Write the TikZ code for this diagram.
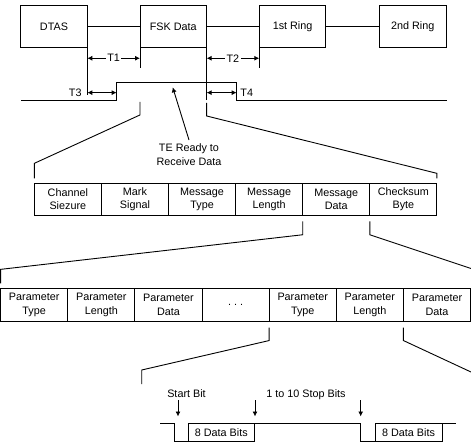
\documentclass[tikz,border=0pt]{standalone}
\usepackage{fontspec}
\setmainfont{Liberation Sans}
\usetikzlibrary{arrows.meta,positioning}

\tikzset{
	phase/.style={draw,minimum width=66.6pt,minimum height=42.7pt,inner sep=0pt,outer sep=0pt},
	cell/.style={draw,minimum width=67.1pt,minimum height=31.7pt,inner sep=0pt,outer sep=0pt,align=center},
	tip/.style={-{Latex[length=5pt,width=5pt]}},
	span/.style={{Latex[length=5pt,width=5pt]}-{Latex[length=5pt,width=5pt]}},
}

\begin{document}
\begin{tikzpicture}[x=1pt,y=-1pt,line width=0.9pt,font=\fontsize{10.8}{13.5}\selectfont]
	\useasboundingbox (0,0) rectangle (471,447);

	% call sequence
	\node[phase] (dtas) at (54,26.3) {DTAS};
	\node[phase] (fsk) at (173.3,26.3) {FSK Data};
	\node[phase] (ring1) at (292.6,26.3) {1st Ring};
	\node[phase] (ring2) at (412.8,26.3) {2nd Ring};
	\draw (dtas) -- (fsk) (fsk) -- (ring1) (ring1) -- (ring2);

	% timing marks
	\draw (dtas.south east) -- ++(0,47.3);
	\draw (fsk.south west) -- ++(0,20.6);
	\draw (fsk.south east) -- ++(0,52.6);
	\draw (ring1.south west) -- ++(0,20.6);
	\path (dtas.south east) ++(0,10.6) coordinate (t1a) ++(0,34.4) coordinate (t3a);
	\path (fsk.south west) ++(0,10.6) coordinate (t1b);
	\path (fsk.south east) ++(0,10.6) coordinate (t2a) ++(0,34.4) coordinate (t4a);
	\path (ring1.south west) ++(0,10.6) coordinate (t2b);
	\draw[span] (t1a) -- node[fill=white,inner sep=1.5pt] {T1} (t1b);
	\draw[span] (t2a) -- node[fill=white,inner sep=1.5pt] {T2} (t2b);

	% line signal
	\coordinate (rise) at (116.7,82.7);
	\coordinate (fall) at (236.7,82.7);
	\draw (21,100.7) -| (rise) -- (fall) |- (447,100.7);
	\draw[span] (t3a) -- (t3a -| rise);
	\draw[span] (t4a) -- (t4a -| fall);
	\node[anchor=east,xshift=-2pt] (t3) at (t3a) {T3};
	\node[anchor=west] (t4) at (t4a -| fall) {T4};

	\node[align=center] (te) at (189,154.5) {TE Ready to\\Receive Data};
	\coordinate (ready) at (172.7,87.3);
	\draw[tip] (te.north) -- (ready);

	% message
	\foreach \name [count=\i] in {{Channel\\Siezure},{Mark\\Signal},{Message\\Type},{Message\\Length},{Message\\Data},{Checksum\\Byte}}
		\node[cell] (m\i) at ({34.3+67.1*\i-33.55},199.2) {\name};
	\draw ([yshift=-54.3pt]fsk.south west) -- ([yshift=-67.3pt]fsk.south west) -- ([yshift=20pt]m1.north west) -- ([yshift=5pt]m1.north west);
	\draw ([yshift=-55.3pt]fsk.south east) -- ([yshift=-68.3pt]fsk.south east) -- ([yshift=10pt]m6.north east) -- ([yshift=5pt]m6.north east);

	% parameters
	\foreach \name [count=\i] in {{Parameter\\Type},{Parameter\\Length},{Parameter\\Data},{.\ .\ .},{Parameter\\Type},{Parameter\\Length},{Parameter\\Data}}
		\node[cell,minimum width=67.14pt,minimum height=32.7pt] (p\i) at ({0.6+67.14*\i-33.57},304.7) {\name};
	\draw ([yshift=-6.3pt]m5.south west) -- ([yshift=-19.7pt]m5.south west) -- ([yshift=19pt]p1.north west) -- ([yshift=5pt]p1.north west);
	\draw ([yshift=-6.3pt]m5.south east) -- ([yshift=-19.7pt]m5.south east) -- (471,268.5);

	% bits
	\draw ([yshift=-6.6pt]p5.south west) -- ([yshift=-19.5pt]p5.south west) -- (141.7,370) -- (141.7,384);
	\draw ([yshift=-6.6pt]p6.south east) -- ([yshift=-19.5pt]p6.south east) -- (471,372);
	\node[cell,minimum width=66pt,minimum height=18.5pt] (bits1) at (221.3,432.25) {8 Data Bits};
	\node[cell,minimum width=67pt,minimum height=18.5pt] (bits2) at (408.5,432.25) {8 Data Bits};
	\draw (160,423) -- (174,423) -- (174,441.5) -- (bits1.south west);
	\draw (bits1.north east) -- (360.7,423) -- (360.7,441.5) -- (bits2.south west);
	\draw (bits2.north east) -- (456,423);

	\node[anchor=base] (start) at (186.5,397.5) {Start Bit};
	\node[anchor=base] (stop) at (306,397.5) {1 to 10 Stop Bits};
	\coordinate (s0) at (178,400);
	\coordinate (s1) at (178,416.5);
	\coordinate (e0) at (255,400);
	\coordinate (e1) at (255,416.5);
	\coordinate (f0) at (360.7,400);
	\coordinate (f1) at (360.7,416.5);
	\draw[tip] (s0) -- (s1);
	\draw[tip] (e0) -- (e1);
	\draw[tip] (f0) -- (f1);
\end{tikzpicture}
\end{document}
